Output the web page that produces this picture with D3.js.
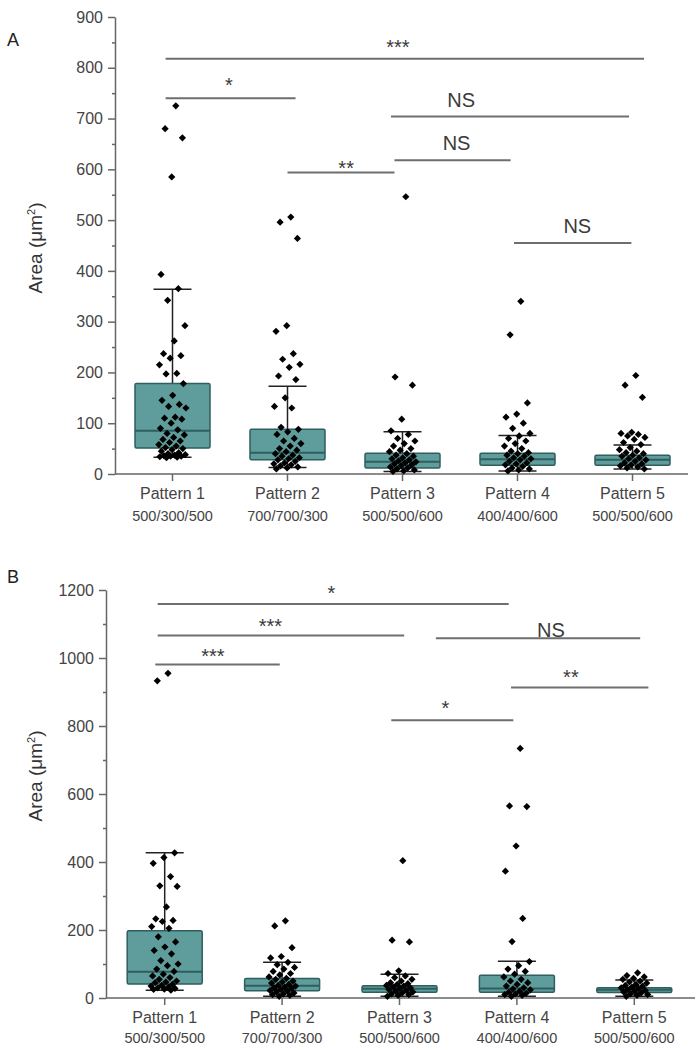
<!DOCTYPE html>
<html><head><meta charset="utf-8">
<script src="https://cdn.jsdelivr.net/npm/d3@7/dist/d3.min.js"></script>
<style>body{margin:0;background:#fff}svg{display:block}</style>
</head><body>
<svg id="c" width="698" height="1050"></svg>
<script>
// ---------- DATA ----------
const categories = ["Pattern 1","Pattern 2","Pattern 3","Pattern 4","Pattern 5"];
const subLabels = ["500/300/500","700/700/300","500/500/600","400/400/600","500/500/600"];
const ticksA = [0,100,200,300,400,500,600,700,800,900];
const minorTicksA = [50,150,250,350,450,550,650,750,850];
const ticksB = [0,200,400,600,800,1000,1200];
const minorTicksB = [100,300,500,700,900,1100];

// Panel A box statistics (lower whisker, Q1, median, Q3, upper whisker)
const lowA  = [33, 13, 5, 6, 10];
const q1A   = [51, 28, 12, 17, 17];
const medA  = [85, 42, 24, 29, 28];
const q3A   = [178, 88, 41, 41, 37];
const highA = [364, 173, 83, 76, 57];

// Panel B box statistics
const lowB  = [23, 5, 5, 5, 5];
const q1B   = [41, 21, 17, 17, 16];
const medB  = [77, 36, 27, 28, 24];
const q3B   = [198, 57, 36, 67, 30];
const highB = [427, 105, 70, 108, 53];

// Panel A individual areas
const pointsA1 = [725,680,662,585,393,365,342,292,262,237,233,228,215,198,197,178,155,145,137,133,130,112,110,108,100,90,87,80,77,72,68,65,62,58,55,52,50,48,45,42,40,38,37,36,35,35,34,33,32];
const pointsA2 = [506,496,464,292,281,237,226,216,210,193,186,150,133,130,92,88,83,78,70,65,60,55,50,47,44,40,37,35,32,30,28,25,22,20,18,16,14,12,10];
const pointsA3 = [546,191,175,108,85,78,70,65,60,55,50,47,44,40,37,35,32,30,28,26,24,22,20,18,16,14,12,10,8,6,5];
const pointsA4 = [340,274,140,118,112,100,90,80,75,70,65,60,55,50,45,42,40,37,35,32,30,28,25,22,20,18,15,12,10,8,6];
const pointsA5 = [194,175,151,82,80,78,75,72,68,62,58,52,48,45,42,40,37,35,32,30,28,25,22,20,18,16,14,12,10];

// Panel B individual areas
const pointsB1 = [955,933,427,413,396,357,330,328,268,233,228,225,210,205,180,165,150,140,130,110,100,95,85,78,70,65,60,55,50,47,45,40,37,35,32,30,28,26,25,23];
const pointsB2 = [227,212,148,122,118,105,98,90,85,78,72,68,62,58,55,50,47,44,40,37,35,32,30,28,25,22,20,18,15,12,10,8,5];
const pointsB3 = [404,170,165,80,72,65,60,55,50,45,42,40,37,35,32,30,28,25,22,20,18,15,12,10,8,5];
const pointsB4 = [734,565,563,447,373,234,166,107,95,85,78,70,62,55,50,45,40,35,30,27,24,20,17,14,12,10,8,5];
const pointsB5 = [74,66,62,58,55,50,47,44,40,37,35,32,30,28,25,22,20,18,15,12,10,8,5];

// Significance brackets: from / to (category index), value, label, label position (category index, value)
const sigFromA  = [-0.06, -0.06, 1.0, 1.9, 1.93, 2.97];
const sigToA    = [4.1, 1.07, 1.93, 3.97, 2.94, 3.99];
const sigValA   = [818, 740, 594, 704, 618, 455];
const sigLabelA = ["***", "*", "**", "NS", "NS", "NS"];
const sigLxA    = [1.96, 0.49, 1.51, 2.51, 2.47, 3.52];
const sigLvA    = [827, 752, 589, 722, 638, 474];

const sigFromB  = [-0.06, -0.06, -0.08, 2.31, 2.95, 1.93];
const sigToB    = [2.93, 2.04, 0.98, 4.05, 4.12, 2.97];
const sigValB   = [1159, 1066, 981, 1058, 913, 817];
const sigLabelB = ["*", "***", "***", "NS", "**", "*"];
const sigLxB    = [1.42, 0.90, 0.41, 3.29, 3.46, 2.39];
const sigLvB    = [1171, 1075, 986, 1062, 925, 833];

// ---------- DRAW ----------
const svg = d3.select("#c");
const FONT = "'Liberation Sans', Arial, sans-serif";
const BOX_FILL = "#5f9d9d", BOX_STROKE = "#2e5e5e", AXIS = "#666", TXT = "#444";

function panel(o) {
  const g = svg.append("g");
  const x = d3.scaleBand().domain(categories).range([o.x0, o.x1]).padding(0);
  const y = d3.scaleLinear().domain([0, o.max]).range([o.yBottom, o.yTop]);
  const cx = f => x(categories[0]) + x.bandwidth() / 2 + f * x.step();
  const bw = 75, capW = 38;

  // y axis
  const ya = g.append("g").attr("transform", `translate(${o.x0},0)`)
    .call(d3.axisLeft(y).tickValues(o.ticks).tickFormat(d3.format("d"))
      .tickSize(7).tickSizeOuter(0).tickPadding(5));
  const ym = g.append("g").attr("transform", `translate(${o.x0},0)`)
    .call(d3.axisLeft(y).tickValues(o.minor).tickSize(3).tickFormat(""));
  ym.select(".domain").remove();
  [ya, ym].forEach(a => {
    a.selectAll("path,line").attr("stroke", AXIS).attr("stroke-width", 1.5);
  });
  ya.selectAll("text").attr("font-family", FONT).attr("font-size", 16).attr("fill", TXT);

  // x axis
  const xa = g.append("g").attr("transform", `translate(0,${o.yBottom})`)
    .call(d3.axisBottom(x).tickSize(7).tickSizeOuter(0).tickFormat(""));
  xa.select(".domain").attr("d", `M${o.x0},0H${o.xEnd}`);
  xa.selectAll("path,line").attr("stroke", AXIS).attr("stroke-width", 1.5);
  xa.selectAll(".tick").append("text").attr("y", 25).attr("text-anchor", "middle")
    .attr("font-family", FONT).attr("font-size", 16).attr("fill", TXT).text(d => d);
  xa.selectAll(".tick").append("text").attr("y", o.subDy).attr("text-anchor", "middle")
    .attr("font-family", FONT).attr("font-size", 14.5).attr("fill", TXT)
    .text((d, i) => subLabels[i]);

  // boxes
  categories.forEach((c, i) => {
    const X = cx(i);
    g.append("line").attr("x1", X).attr("x2", X).attr("y1", y(o.high[i])).attr("y2", y(o.low[i]))
      .attr("stroke", "#222").attr("stroke-width", 1.5);
    g.append("rect").attr("x", X - bw / 2).attr("width", bw)
      .attr("y", y(o.q3[i])).attr("height", y(o.q1[i]) - y(o.q3[i]))
      .attr("fill", BOX_FILL).attr("stroke", BOX_STROKE).attr("stroke-width", 1.5).attr("rx", 1.5);
    g.append("line").attr("x1", X - bw / 2).attr("x2", X + bw / 2)
      .attr("y1", y(o.med[i])).attr("y2", y(o.med[i])).attr("stroke", BOX_STROKE).attr("stroke-width", 2);
    [o.high[i], o.low[i]].forEach(v => {
      g.append("line").attr("x1", X - capW / 2).attr("x2", X + capW / 2)
        .attr("y1", y(v)).attr("y2", y(v)).attr("stroke", "#222").attr("stroke-width", 1.5);
    });
  });

  // points
  const sym = d3.symbol().type(d3.symbolSquare).size(26);
  o.points.forEach((arr, i) => {
    const X = cx(i);
    g.append("g").selectAll("path").data(arr).join("path")
      .attr("d", sym)
      .attr("fill", "#000")
      .attr("transform", (v, k) => {
        const j = (((k + 1) * 0.618034) % 1 - 0.5) * 2 * 14;
        return `translate(${X + j},${y(v)}) rotate(45)`;
      });
  });

  // significance
  o.sigFrom.forEach((f, k) => {
    g.append("line").attr("x1", cx(f)).attr("x2", cx(o.sigTo[k]))
      .attr("y1", y(o.sigVal[k])).attr("y2", y(o.sigVal[k]))
      .attr("stroke", "#6e6e6e").attr("stroke-width", 2);
    g.append("text").attr("x", cx(o.sigLx[k])).attr("y", y(o.sigLv[k]))
      .attr("text-anchor", "middle").attr("font-family", FONT).attr("font-size", 20)
      .attr("fill", "#3a3a3a").text(o.sigLabel[k]);
  });

  // panel letter
  g.append("text").attr("x", o.letterX).attr("y", o.letterY).attr("font-family", FONT)
    .attr("font-size", 18).attr("fill", "#222").text(o.letter);

  // y label
  const yl = g.append("text").attr("transform", `translate(${o.ylx},${o.yly}) rotate(-90)`)
    .attr("text-anchor", "middle").attr("font-family", FONT).attr("font-size", 19).attr("fill", "#333");
  yl.append("tspan").text("Area (μm");
  yl.append("tspan").attr("font-size", 11).attr("dy", -7).text("2");
  yl.append("tspan").attr("dy", 7).text(")");
}

panel({
  x0: 115, x1: 690, xEnd: 688, yBottom: 474, yTop: 17, max: 900,
  ticks: ticksA, minor: minorTicksA, subDy: 47,
  low: lowA, q1: q1A, med: medA, q3: q3A, high: highA,
  points: [pointsA1, pointsA2, pointsA3, pointsA4, pointsA5],
  sigFrom: sigFromA, sigTo: sigToA, sigVal: sigValA, sigLabel: sigLabelA, sigLx: sigLxA, sigLv: sigLvA,
  letter: "A", letterX: 7, letterY: 46, ylx: 42, yly: 248
});
panel({
  x0: 106, x1: 693, xEnd: 695, yBottom: 998, yTop: 590, max: 1200,
  ticks: ticksB, minor: minorTicksB, subDy: 45,
  low: lowB, q1: q1B, med: medB, q3: q3B, high: highB,
  points: [pointsB1, pointsB2, pointsB3, pointsB4, pointsB5],
  sigFrom: sigFromB, sigTo: sigToB, sigVal: sigValB, sigLabel: sigLabelB, sigLx: sigLxB, sigLv: sigLvB,
  letter: "B", letterX: 7, letterY: 583, ylx: 42, yly: 776
});
</script>
</body></html>
